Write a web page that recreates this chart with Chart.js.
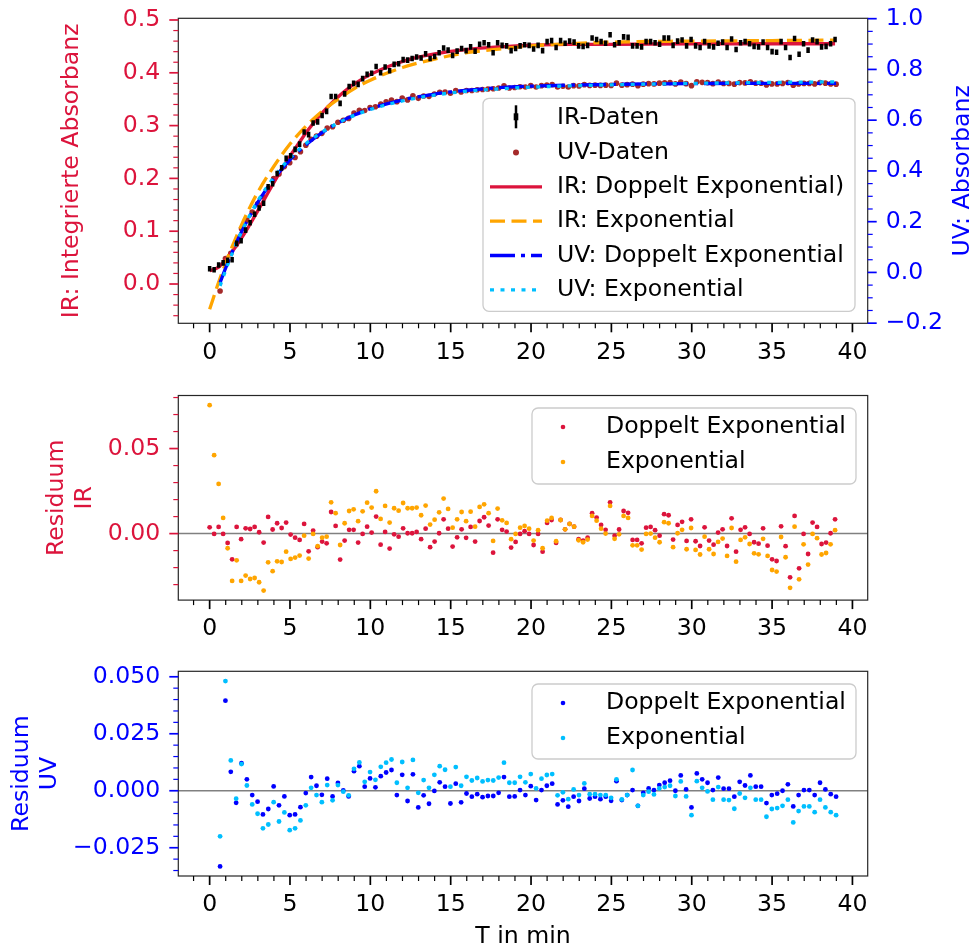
<!DOCTYPE html>
<html>
<head>
<meta charset="utf-8">
<title>IR / UV Kinetik</title>
<script src="https://cdn.jsdelivr.net/npm/chart.js@4.4.1/dist/chart.umd.min.js"></script>
<style>
  body { margin: 0; background: #fff; }
  #bild { position: relative; width: 976px; height: 951px; }
  #bild canvas { position: absolute; left: 0; }
</style>
</head>
<body>
<div id="bild">
  <canvas id="graficoOben" width="976" height="380" style="top:0px"></canvas>
  <canvas id="graficoIR" width="976" height="270" style="top:380px"></canvas>
  <canvas id="graficoUV" width="976" height="301" style="top:650px"></canvas>
</div>
<script>
var SCHRIFT = "'DejaVu Sans', sans-serif";
var GROESSE = 23.6;
var ROT = '#DC143C', ORANGE = '#FFA500', BLAU = '#0000FF', HELLBLAU = '#00BFFF', BRAUN = '#A52A2A';

// Messraster: IR alle 0.28 min ab 0, UV alle 20 s ab 0.65 min
var IR_SCHRITT = 0.28, UV_START = 0.65, UV_SCHRITT = 1 / 3;

var irDaten = [
  0.029, 0.027, 0.036, 0.040, 0.045, 0.046, 0.077, 0.082, 0.102, 0.116,
  0.132, 0.144, 0.153, 0.184, 0.190, 0.209, 0.220, 0.238, 0.243, 0.255,
  0.265, 0.288, 0.283, 0.305, 0.307, 0.319, 0.327, 0.355, 0.355, 0.342,
  0.360, 0.374, 0.380, 0.378, 0.389, 0.397, 0.399, 0.412, 0.400, 0.411,
  0.404, 0.416, 0.417, 0.425, 0.424, 0.427, 0.430, 0.428, 0.436, 0.427,
  0.431, 0.438, 0.447, 0.443, 0.433, 0.441, 0.446, 0.442, 0.449, 0.441,
  0.454, 0.457, 0.453, 0.438, 0.457, 0.452, 0.451, 0.442, 0.446, 0.451,
  0.453, 0.452, 0.445, 0.452, 0.442, 0.459, 0.461, 0.448, 0.461, 0.456,
  0.460, 0.458, 0.451, 0.450, 0.452, 0.466, 0.463, 0.459, 0.456, 0.472,
  0.453, 0.457, 0.468, 0.467, 0.451, 0.451, 0.449, 0.459, 0.459, 0.457,
  0.454, 0.466, 0.466, 0.452, 0.460, 0.462, 0.451, 0.463, 0.451, 0.448,
  0.459, 0.451, 0.449, 0.456, 0.458, 0.448, 0.464, 0.444, 0.457, 0.459,
  0.455, 0.450, 0.449, 0.458, 0.448, 0.440, 0.439, 0.459, 0.448, 0.429,
  0.465, 0.435, 0.455, 0.443, 0.462, 0.459, 0.449, 0.450, 0.455, 0.463
];

var uvDaten = [
  -0.073, 0.055, 0.075, 0.110, 0.172, 0.206, 0.238, 0.270, 0.298, 0.331,
  0.370, 0.388, 0.417, 0.432, 0.453, 0.476, 0.501, 0.525, 0.537, 0.548,
  0.569, 0.574, 0.592, 0.600, 0.607, 0.628, 0.639, 0.638, 0.650, 0.653,
  0.664, 0.672, 0.679, 0.673, 0.687, 0.680, 0.696, 0.686, 0.695, 0.694,
  0.703, 0.710, 0.711, 0.706, 0.717, 0.711, 0.717, 0.717, 0.720, 0.721,
  0.723, 0.724, 0.727, 0.735, 0.727, 0.729, 0.732, 0.731, 0.736, 0.731,
  0.736, 0.738, 0.740, 0.731, 0.734, 0.731, 0.736, 0.735, 0.740, 0.737,
  0.738, 0.737, 0.738, 0.737, 0.746, 0.738, 0.740, 0.742, 0.736, 0.742,
  0.744, 0.743, 0.746, 0.747, 0.748, 0.743, 0.750, 0.744, 0.736, 0.751,
  0.749, 0.748, 0.744, 0.750, 0.745, 0.745, 0.742, 0.748, 0.747, 0.751,
  0.746, 0.746, 0.739, 0.743, 0.743, 0.745, 0.748, 0.738, 0.743, 0.745,
  0.745, 0.743, 0.748, 0.746, 0.743, 0.742
];

var irResDoppelt = [
  0.0037, -0.0002, 0.0039, -0.0002, -0.0055, -0.0151, 0.0039, -0.0033, 0.0031, 0.0027,
  0.0039, 0.0008, -0.0053, 0.0098, 0.0024, 0.0061, 0.0033, 0.0065, -0.0006, -0.0024,
  -0.0037, 0.0057, -0.0104, 0.0018, -0.0080, -0.0047, -0.0057, 0.0127, 0.0045, -0.0153,
  -0.0041, 0.0022, 0.0022, -0.0053, -0.0002, 0.0041, 0.0006, 0.0100, -0.0065, 0.0010,
  -0.0088, -0.0004, -0.0018, 0.0031, 0.0002, 0.0002, 0.0010, -0.0033, 0.0029, -0.0080,
  -0.0047, 0.0002, 0.0084, 0.0029, -0.0076, -0.0022, 0.0025, -0.0025, 0.0039, -0.0047,
  0.0074, 0.0096, 0.0047, -0.0112, 0.0084, 0.0022, 0.0012, -0.0082, -0.0049, -0.0002,
  0.0014, -0.0002, -0.0067, -0.0002, -0.0106, 0.0063, 0.0080, -0.0055, 0.0080, 0.0025,
  0.0057, 0.0041, -0.0033, -0.0041, -0.0024, 0.0120, 0.0094, 0.0051, 0.0022, 0.0184,
  -0.0012, 0.0024, 0.0133, 0.0122, -0.0037, -0.0037, -0.0057, 0.0035, 0.0039, 0.0020,
  -0.0012, 0.0114, 0.0108, -0.0035, 0.0051, 0.0069, -0.0043, 0.0084, -0.0045, -0.0073,
  0.0037, -0.0041, -0.0065, 0.0006, 0.0025, -0.0073, 0.0090, -0.0106, 0.0022, 0.0037,
  -0.0002, -0.0051, -0.0059, 0.0031, -0.0071, -0.0151, -0.0161, 0.0043, -0.0074, -0.0257,
  0.0104, -0.0204, -0.0002, -0.0120, 0.0065, 0.0039, -0.0061, -0.0053, 0.0002, 0.0084
];

var irResExp = [
  0.0755, 0.0461, 0.0292, 0.0092, -0.0086, -0.0278, -0.0157, -0.0278, -0.0247, -0.0267,
  -0.0261, -0.0286, -0.0335, -0.0169, -0.0221, -0.0163, -0.0167, -0.0106, -0.0149, -0.0141,
  -0.0129, -0.0012, -0.0147, -0.0002, -0.0074, -0.0024, -0.0018, 0.0184, 0.0120, -0.0067,
  0.0061, 0.0133, 0.0143, 0.0073, 0.0131, 0.0182, 0.0153, 0.0249, 0.0086, 0.0163,
  0.0065, 0.0149, 0.0135, 0.0180, 0.0149, 0.0149, 0.0153, 0.0108, 0.0165, 0.0053,
  0.0082, 0.0125, 0.0206, 0.0145, 0.0035, 0.0084, 0.0127, 0.0073, 0.0129, 0.0041,
  0.0157, 0.0172, 0.0120, -0.0043, 0.0147, 0.0078, 0.0063, -0.0033, -0.0002, 0.0035,
  0.0045, 0.0029, -0.0041, 0.0020, -0.0086, 0.0076, 0.0092, -0.0045, 0.0080, 0.0025,
  0.0057, 0.0041, -0.0039, -0.0051, -0.0035, 0.0104, 0.0076, 0.0029, 0.0000, 0.0163,
  -0.0031, -0.0004, 0.0104, 0.0092, -0.0069, -0.0069, -0.0094, -0.0002, 0.0000, -0.0024,
  -0.0051, 0.0067, 0.0061, -0.0080, 0.0002, 0.0022, -0.0092, 0.0033, -0.0096, -0.0123,
  -0.0018, -0.0092, -0.0120, -0.0049, -0.0029, -0.0131, 0.0033, -0.0165, -0.0037, -0.0022,
  -0.0061, -0.0116, -0.0122, -0.0031, -0.0131, -0.0214, -0.0223, -0.0020, -0.0139, -0.0319,
  0.0041, -0.0269, -0.0063, -0.0182, -0.0002, -0.0027, -0.0123, -0.0114, -0.0063, 0.0020
];

var uvResDoppelt = [
  -0.0332, 0.0395, 0.0083, -0.0053, 0.0121, 0.0050, -0.0019, -0.0048, -0.0104, -0.0080,
  0.0019, -0.0064, -0.0025, -0.0107, -0.0104, -0.0072, -0.0010, 0.0060, 0.0022, -0.0018,
  0.0053, -0.0025, 0.0034, 0.0001, -0.0025, 0.0086, 0.0108, 0.0018, 0.0054, 0.0015,
  0.0064, 0.0080, 0.0091, -0.0019, 0.0070, -0.0045, 0.0072, -0.0073, -0.0020, -0.0057,
  -0.0001, 0.0037, 0.0018, -0.0056, 0.0031, -0.0051, -0.0012, -0.0026, -0.0015, -0.0028,
  -0.0023, -0.0023, -0.0009, 0.0060, -0.0026, -0.0025, 0.0003, -0.0019, 0.0020, -0.0041,
  0.0003, 0.0022, 0.0031, -0.0060, -0.0042, -0.0070, -0.0026, -0.0045, 0.0009, -0.0034,
  -0.0026, -0.0037, -0.0026, -0.0044, 0.0042, -0.0041, -0.0019, 0.0003, -0.0066, -0.0009,
  0.0010, 0.0003, 0.0025, 0.0035, 0.0044, 0.0000, 0.0067, 0.0006, -0.0073, 0.0076,
  0.0050, 0.0035, 0.0003, 0.0058, 0.0009, 0.0009, -0.0026, 0.0039, 0.0023, 0.0067,
  0.0018, 0.0018, -0.0054, -0.0019, -0.0013, 0.0000, 0.0028, -0.0069, -0.0019, 0.0003,
  0.0003, -0.0019, 0.0035, 0.0006, -0.0015, -0.0026
];

var uvResExp = [
  -0.0200, 0.0481, 0.0133, -0.0035, 0.0117, 0.0023, -0.0060, -0.0101, -0.0165, -0.0148,
  -0.0050, -0.0135, -0.0095, -0.0173, -0.0165, -0.0130, -0.0064, 0.0013, -0.0019, -0.0050,
  0.0025, -0.0042, 0.0025, -0.0004, -0.0020, 0.0096, 0.0124, 0.0039, 0.0082, 0.0048,
  0.0105, 0.0123, 0.0137, 0.0035, 0.0126, 0.0013, 0.0135, -0.0009, 0.0047, 0.0013,
  0.0070, 0.0108, 0.0092, 0.0018, 0.0104, 0.0022, 0.0061, 0.0045, 0.0056, 0.0041,
  0.0047, 0.0045, 0.0058, 0.0123, 0.0035, 0.0035, 0.0061, 0.0037, 0.0073, 0.0010,
  0.0053, 0.0069, 0.0073, -0.0020, -0.0007, -0.0037, 0.0006, -0.0019, 0.0032, -0.0015,
  -0.0015, -0.0019, -0.0019, -0.0031, 0.0050, -0.0038, -0.0019, 0.0091, -0.0066, -0.0019,
  -0.0004, -0.0016, 0.0010, 0.0016, 0.0022, -0.0023, 0.0041, -0.0025, -0.0107, 0.0042,
  0.0013, -0.0003, -0.0039, 0.0016, -0.0039, -0.0041, -0.0079, -0.0012, -0.0031, 0.0013,
  -0.0039, -0.0039, -0.0114, -0.0080, -0.0076, -0.0066, -0.0039, -0.0139, -0.0089, -0.0069,
  -0.0069, -0.0094, -0.0039, -0.0073, -0.0094, -0.0107
];

var irFitZeit = [0, 0.56, 1.12, 1.68, 2.24, 2.8, 3.36, 3.92, 4.48, 5.04, 5.6, 6.16, 7.0, 7.84, 8.96, 10.08, 11.2, 12.6, 14.0, 15.96, 17.92, 19.88, 22.4, 25.2, 30, 35, 38.92];
var irFitDoppelt = [0.025, 0.032, 0.051, 0.073, 0.099, 0.128, 0.158, 0.188, 0.217, 0.244, 0.269, 0.293, 0.324, 0.350, 0.378, 0.398, 0.413, 0.427, 0.436, 0.444, 0.449, 0.452, 0.454, 0.454, 0.455, 0.455, 0.455];
var irExpZeit = [0, 0.5, 1, 1.5, 2, 2.5, 3, 4, 5, 6, 7, 8, 9, 10, 12, 14, 16, 18, 20, 25, 30, 35, 38.92];
var irFitExp = [-0.048, -0.002, 0.040, 0.078, 0.113, 0.145, 0.174, 0.223, 0.265, 0.299, 0.327, 0.350, 0.370, 0.386, 0.410, 0.426, 0.438, 0.445, 0.451, 0.458, 0.460, 0.461, 0.462];
var uvFitZeit = [0.65, 1, 1.5, 2, 2.5, 3, 4, 5, 6, 7, 8, 9, 10, 12, 14, 16, 18, 20, 25, 30, 35, 38.98];
var uvFitDoppelt = [-0.040, 0.018, 0.094, 0.162, 0.222, 0.277, 0.369, 0.444, 0.503, 0.551, 0.589, 0.620, 0.645, 0.680, 0.703, 0.718, 0.728, 0.734, 0.741, 0.744, 0.745, 0.745];
var uvFitExp = [-0.053, 0.009, 0.090, 0.162, 0.225, 0.282, 0.375, 0.451, 0.508, 0.553, 0.589, 0.619, 0.642, 0.676, 0.699, 0.714, 0.723, 0.730, 0.739, 0.745, 0.749, 0.751];

var irZeit = irDaten.map(function(v, i){ return i * IR_SCHRITT; });
var uvZeit = uvDaten.map(function(v, i){ return UV_START + i * UV_SCHRITT; });

function punkte(xs, ys){
  return ys.map(function(y, i){ return {x: xs[i], y: y}; });
}

function zahl(stellen){
  return function(v){
    if (Math.abs(v) < 1e-9) v = 0;
    return v.toFixed(stellen).replace('-', '\u2212');
  };
}

function schrift(){ return {family: SCHRIFT, size: GROESSE}; }

function achseX(hoehe, titel){
  return {
    type: 'linear', position: 'bottom', min: -1.95, max: 40.95,
    grid: {display: false, drawTicks: false}, border: {display: false},
    ticks: {stepSize: 5, includeBounds: false, padding: 15, maxRotation: 0, autoSkip: false,
            color: '#000', font: schrift(), callback: function(v){ return String(Math.round(v)); }},
    title: titel ? {display: true, text: titel, color: '#000', font: schrift(), padding: {top: 0, bottom: 0}} : {display: false},
    afterFit: function(s){ s.height = hoehe; s.paddingLeft = 0; s.paddingRight = 0; }
  };
}

function achseY(pos, min, max, schritt, stellen, farbe, breite, titel, titelAbstand){
  return {
    type: 'linear', position: pos, min: min, max: max,
    grid: {display: false, drawTicks: false}, border: {display: false},
    ticks: {stepSize: schritt, includeBounds: false, padding: 18, color: farbe, font: schrift(), callback: zahl(stellen)},
    title: titel ? {display: true, text: titel, color: farbe, font: schrift(), padding: {top: titelAbstand, bottom: 0}} : {display: false},
    afterFit: function(s){ s.width = breite; s.paddingTop = 0; s.paddingBottom = 0; }
  };
}

function rundRechteck(ctx, x, y, b, h, r){
  ctx.beginPath();
  ctx.moveTo(x + r, y);
  ctx.arcTo(x + b, y, x + b, y + h, r);
  ctx.arcTo(x + b, y + h, x, y + h, r);
  ctx.arcTo(x, y + h, x, y, r);
  ctx.arcTo(x, y, x + b, y, r);
  ctx.closePath();
}

function zeichneLegende(chart, L){
  var ctx = chart.ctx;
  ctx.save();
  rundRechteck(ctx, L.x, L.y, L.b, L.h, 6);
  ctx.fillStyle = 'rgba(255,255,255,0.8)';
  ctx.fill();
  ctx.strokeStyle = '#cccccc';
  ctx.lineWidth = 1.3;
  ctx.stroke();
  ctx.font = GROESSE + 'px ' + SCHRIFT;
  ctx.textBaseline = 'middle';
  ctx.textAlign = 'left';
  chart.data.datasets.forEach(function(ds, i){
    var y = L.y + L.erste + i * L.abstand;
    var mx = L.x + L.marke;
    if (ds.showLine){
      ctx.strokeStyle = ds.borderColor;
      ctx.lineWidth = ds.borderWidth;
      ctx.setLineDash(ds.borderDash || []);
      ctx.beginPath(); ctx.moveTo(mx - 26, y); ctx.lineTo(mx + 26, y); ctx.stroke();
      ctx.setLineDash([]);
    } else if (ds.pointStyle === 'line'){
      ctx.strokeStyle = ds.pointBorderColor;
      ctx.lineWidth = 2.5;
      ctx.beginPath(); ctx.moveTo(mx, y - 13); ctx.lineTo(mx, y + 10); ctx.stroke();
      ctx.fillStyle = ds.pointBorderColor;
      ctx.fillRect(mx - 2.3, y - 5, 4.6, 7);
    } else {
      ctx.fillStyle = ds.pointBackgroundColor;
      ctx.beginPath(); ctx.arc(mx, y, L.punkt, 0, Math.PI * 2); ctx.fill();
    }
    ctx.fillStyle = '#000';
    ctx.fillText(ds.label, L.x + L.text, y);
  });
  ctx.restore();
}

var dekoration = {
  id: 'deko',
  beforeDatasetsDraw: function(chart, args, o){
    if (!o.nullLinie) return;
    var a = chart.chartArea, ctx = chart.ctx;
    var y0 = chart.scales.y.getPixelForValue(0);
    ctx.save();
    ctx.strokeStyle = '#808080';
    ctx.lineWidth = 1.5;
    ctx.beginPath(); ctx.moveTo(a.left, y0); ctx.lineTo(a.right, y0); ctx.stroke();
    ctx.restore();
  },
  afterDraw: function(chart, args, o){
    var ctx = chart.ctx, a = chart.chartArea;
    ctx.save();
    ctx.strokeStyle = '#262626';
    ctx.lineWidth = 1.2;
    ctx.strokeRect(a.left, a.top, a.right - a.left, a.bottom - a.top);

    (o.striche || []).forEach(function(st){
      var s = chart.scales[st.achse];
      var k0 = Math.ceil(s.min / st.klein - 1e-6), k1 = Math.floor(s.max / st.klein + 1e-6);
      ctx.strokeStyle = st.farbe;
      for (var k = k0; k <= k1; k++){
        var v = k * st.klein;
        var q = v / st.gross;
        var gross = Math.abs(q - Math.round(q)) < 1e-6;
        var len = gross ? 9 : 5;
        var p = s.getPixelForValue(v);
        ctx.lineWidth = gross ? 1.7 : 1.2;
        ctx.beginPath();
        if (s.position === 'bottom'){ ctx.moveTo(p, a.bottom); ctx.lineTo(p, a.bottom + len); }
        else if (s.position === 'left'){ ctx.moveTo(a.left, p); ctx.lineTo(a.left - len, p); }
        else { ctx.moveTo(a.right, p); ctx.lineTo(a.right + len, p); }
        ctx.stroke();
      }
    });

    if (o.rechterTitel){
      ctx.translate(o.rechterTitel.x, (a.top + a.bottom) / 2);
      ctx.rotate(-Math.PI / 2);
      ctx.font = GROESSE + 'px ' + SCHRIFT;
      ctx.fillStyle = o.rechterTitel.farbe;
      ctx.textAlign = 'center';
      ctx.textBaseline = 'middle';
      ctx.fillText(o.rechterTitel.text, 0, 0);
    }
    ctx.restore();

    if (o.legende) zeichneLegende(chart, o.legende);
  }
};

function basis(padding){
  return {
    responsive: false, maintainAspectRatio: false, animation: false, devicePixelRatio: 1,
    layout: {padding: padding, autoPadding: false},
    events: []
  };
}

// ---- oberes Diagramm ----
var optOben = basis({top: 18.3, left: 0, right: 0, bottom: 0});
optOben.scales = {
  x: achseX(56.7),
  yIR: achseY('left', -0.0744, 0.5032, 0.1, 1, ROT, 178.3, 'IR: Integrierte Absorbanz', 57.8),
  yUV: achseY('right', -0.2005, 1.0015, 0.2, 1, BLAU, 108.3)
};
optOben.plugins = {
  legend: {display: false}, tooltip: {enabled: false},
  deko: {
    striche: [
      {achse: 'x', gross: 5, klein: 1, farbe: '#000'},
      {achse: 'yIR', gross: 0.1, klein: 0.02, farbe: ROT},
      {achse: 'yUV', gross: 0.2, klein: 0.05, farbe: BLAU}
    ],
    rechterTitel: {text: 'UV: Absorbanz', farbe: BLAU, x: 962.7},
    legende: {x: 483, y: 98.3, b: 372, h: 213, erste: 20, abstand: 34.3, marke: 33, text: 74, punkt: 3}
  }
};

new Chart(document.getElementById('graficoOben'), {
  type: 'scatter',
  data: {datasets: [
    {label: 'IR-Daten', data: punkte(irZeit, irDaten), yAxisID: 'yIR',
     pointStyle: 'line', pointRotation: 90, pointRadius: 2.8, pointBorderWidth: 3.5, pointBorderColor: '#000', order: 0},
    {label: 'UV-Daten', data: punkte(uvZeit, uvDaten), yAxisID: 'yUV',
     pointRadius: 2.8, pointBackgroundColor: BRAUN, pointBorderWidth: 0, order: 5},
    {label: 'IR: Doppelt Exponential)', data: punkte(irFitZeit, irFitDoppelt), yAxisID: 'yIR', showLine: true,
     borderColor: ROT, borderWidth: 3.3, pointRadius: 0, cubicInterpolationMode: 'monotone', order: 4},
    {label: 'IR: Exponential', data: punkte(irExpZeit, irFitExp), yAxisID: 'yIR', showLine: true,
     borderColor: ORANGE, borderWidth: 3.3, borderDash: [15, 6.5], pointRadius: 0, cubicInterpolationMode: 'monotone', order: 3},
    {label: 'UV: Doppelt Exponential', data: punkte(uvFitZeit, uvFitDoppelt), yAxisID: 'yUV', showLine: true,
     borderColor: BLAU, borderWidth: 3.3, borderDash: [25, 6, 4, 6], pointRadius: 0, cubicInterpolationMode: 'monotone', order: 2},
    {label: 'UV: Exponential', data: punkte(uvFitZeit, uvFitExp), yAxisID: 'yUV', showLine: true,
     borderColor: HELLBLAU, borderWidth: 3.3, borderDash: [4, 6.5], pointRadius: 0, cubicInterpolationMode: 'monotone', order: 1}
  ]},
  options: optOben,
  plugins: [dekoration]
});

// ---- Residuen IR ----
var optIR = basis({top: 15.5, left: 0, right: 108.3, bottom: 0});
optIR.scales = {
  x: achseX(49.9),
  y: achseY('left', -0.0391, 0.0812, 0.05, 2, ROT, 178.3, ['Residuum', 'IR'], 42.5)
};
optIR.plugins = {
  legend: {display: false}, tooltip: {enabled: false},
  deko: {
    nullLinie: true,
    striche: [
      {achse: 'x', gross: 5, klein: 1, farbe: '#000'},
      {achse: 'y', gross: 0.05, klein: 0.01, farbe: ROT}
    ],
    legende: {x: 532, y: 28, b: 324, h: 76, erste: 19, abstand: 35, marke: 31, text: 74, punkt: 2.3}
  }
};

new Chart(document.getElementById('graficoIR'), {
  type: 'scatter',
  data: {datasets: [
    {label: 'Doppelt Exponential', data: punkte(irZeit, irResDoppelt),
     pointRadius: 2.4, pointBackgroundColor: ROT, pointBorderWidth: 0, order: 1},
    {label: 'Exponential', data: punkte(irZeit, irResExp),
     pointRadius: 2.4, pointBackgroundColor: ORANGE, pointBorderWidth: 0, order: 0}
  ]},
  options: optIR,
  plugins: [dekoration]
});

// ---- Residuen UV ----
var optUV = basis({top: 21.3, left: 0, right: 108.3, bottom: 0});
optUV.scales = {
  x: achseX(75, 'T in min'),
  y: achseY('left', -0.0374, 0.0524, 0.025, 3, BLAU, 178.3, ['Residuum', 'UV'], 7.5)
};
optUV.plugins = {
  legend: {display: false}, tooltip: {enabled: false},
  deko: {
    nullLinie: true,
    striche: [
      {achse: 'x', gross: 5, klein: 1, farbe: '#000'},
      {achse: 'y', gross: 0.025, klein: 0.005, farbe: BLAU}
    ],
    legende: {x: 532, y: 34, b: 324, h: 75, erste: 19, abstand: 35, marke: 31, text: 74, punkt: 2.3}
  }
};

new Chart(document.getElementById('graficoUV'), {
  type: 'scatter',
  data: {datasets: [
    {label: 'Doppelt Exponential', data: punkte(uvZeit, uvResDoppelt),
     pointRadius: 2.4, pointBackgroundColor: BLAU, pointBorderWidth: 0, order: 1},
    {label: 'Exponential', data: punkte(uvZeit, uvResExp),
     pointRadius: 2.4, pointBackgroundColor: HELLBLAU, pointBorderWidth: 0, order: 0}
  ]},
  options: optUV,
  plugins: [dekoration]
});
</script>
</body>
</html>
